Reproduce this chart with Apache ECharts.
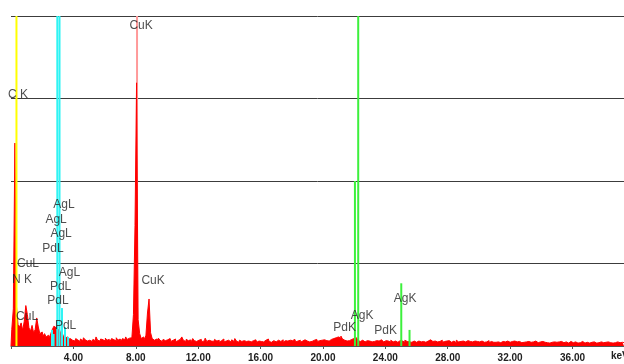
<!DOCTYPE html>
<html>
<head>
<meta charset="utf-8">
<script src="https://cdn.jsdelivr.net/npm/echarts@6/dist/echarts.min.js"></script>
<style>
  html, body {margin: 0; padding: 0; background: #fff;}
  #chart {width: 624px; height: 364px;}
</style>
</head>
<body>
<div id="chart"></div>
<script>
// spectrum counts, one value per 0.1 keV channel, starting at 0.0 keV
const channelStep = 0.1
const counts = [
  0, 200, 450, 2460, 480, 260, 230, 280, 190, 300,
  490, 380, 220, 180, 250, 160, 200, 340, 230, 150,
  170, 120, 150, 110, 130, 100, 150, 200, 240, 220,
  190, 200, 170, 150, 120, 100, 110, 80, 90, 70,
  80, 60, 90, 70, 55, 85, 65, 100, 75, 60,
  70, 90, 55, 80, 65, 110, 70, 60, 85, 75,
  60, 95, 70, 80, 55, 90, 75, 65, 100, 70,
  85, 60, 90, 75, 110, 80, 95, 100, 120, 380,
  1460, 3190, 320, 150, 90, 110, 80, 130, 400, 570,
  160, 90, 70, 85, 60, 95, 70, 55, 80, 65,
  75, 60, 90, 55, 70, 85, 50, 65, 80, 60,
  110, 70, 55, 85, 60, 75, 50, 90, 65, 55,
  70, 60, 80, 50, 65, 95, 55, 70, 60, 75,
  55, 80, 60, 70, 45, 65, 85, 50, 60, 70,
  60, 50, 75, 55, 90, 60, 45, 70, 55, 65,
  70, 55, 60, 80, 50, 65, 55, 75, 45, 60,
  55, 65, 50, 70, 60, 85, 55, 45, 65, 60,
  50, 70, 60, 55, 75, 45, 65, 60, 50, 70,
  65, 55, 80, 50, 60, 70, 45, 60, 75, 55,
  60, 50, 65, 55, 70, 60, 80, 55, 65, 70,
  60, 75, 65, 70, 60, 80, 75, 90, 100, 115,
  110, 95, 120, 85, 70, 60, 75, 65, 80, 70,
  90, 100, 80, 65, 55, 70, 60, 50, 65, 55,
  60, 50, 70, 55, 65, 45, 60, 75, 55, 50,
  65, 55, 60, 45, 70, 50, 60, 55, 45, 65,
  50, 60, 45, 70, 55, 50, 65, 45, 60, 55,
  45, 60, 70, 50, 55, 65, 45, 60, 50, 75,
  55, 45, 60, 50, 65, 55, 70, 45, 55, 60,
  50, 65, 45, 55, 60, 40, 70, 50, 55, 45,
  60, 50, 45, 65, 55, 40, 50, 60, 45, 55,
  50, 40, 60, 45, 55, 50, 65, 40, 55, 45,
  55, 45, 50, 60, 40, 55, 45, 50, 60, 40,
  45, 55, 40, 60, 50, 45, 55, 40, 50, 45,
  50, 40, 55, 45, 35, 50, 60, 45, 40, 50,
  40, 55, 45, 50, 40, 35, 55, 45, 50, 40,
  45, 50, 35, 55, 40, 45, 50, 35, 45, 55,
  40, 45, 50, 35, 45, 40, 55, 40, 35, 45,
  50, 35, 45, 40, 50, 35, 45, 40, 50, 35,
  40, 45, 35, 50, 40, 45, 35, 40, 45, 50,
  40, 35, 45, 40
]

// element marker lines: [keV, height]
const yellowLines = [[0.35, 4000]]
const cyanLines = [[2.97, 4000], [3.11, 4000], [2.63, 195], [2.73, 145], [3.27, 460], [3.46, 230], [3.66, 110]]
const greenLines = [[22.05, 2000], [22.26, 4000], [25.02, 760], [25.55, 195]]
const pinkLines = [[8.08, 4000]]

// peak labels: [keV, height, text]
const peakLabels = [
  [8.34, 3879, 'CuK'],
  [0.45, 3042, 'C K'],
  [3.40, 1715, 'AgL'],
  [2.89, 1533, 'AgL'],
  [3.21, 1357, 'AgL'],
  [2.69, 1176, 'PdL'],
  [1.09, 994, 'CuL'],
  [0.71, 800, 'N K'],
  [3.75, 894, 'AgL'],
  [3.18, 715, 'PdL'],
  [3.01, 545, 'PdL'],
  [1.03, 352, 'CuL'],
  [3.50, 242, 'PdL'],
  [9.11, 788, 'CuK'],
  [21.39, 218, 'PdK'],
  [22.51, 364, 'AgK'],
  [24.02, 182, 'PdK'],
  [25.27, 570, 'AgK']
]

const xTicks = [0, 4, 8, 12, 16, 20, 24, 28, 32, 36]

const markerSeries = (data, color, width, z) => ({
  type: 'custom',
  z,
  data,
  renderItem(params, api) {
    const p0 = api.coord([api.value(0), 0])
    const p1 = api.coord([api.value(0), api.value(1)])
    return {
      type: 'line',
      shape: {x1: p0[0], y1: p0[1], x2: p1[0], y2: p1[1]},
      style: {stroke: color, lineWidth: width}
    }
  }
})

const chart = echarts.init(document.getElementById('chart'))
chart.setOption({
  animation: false,
  backgroundColor: '#fff',
  grid: {left: 11, right: 0, top: 16, bottom: 18, containLabel: false, outerBoundsMode: 'none'},
  xAxis: {
    type: 'value',
    min: 0,
    max: 39.3,
    interval: 4,
    offset: 3,
    name: 'keV',
    nameLocation: 'end',
    nameGap: -13,
    nameTextStyle: {
      color: '#222', fontSize: 10, fontWeight: 'bold',
      fontFamily: 'Liberation Sans, Arial, sans-serif',
      verticalAlign: 'top', padding: [5, 0, 0, 0]
    },
    splitLine: {show: false},
    axisLine: {lineStyle: {color: '#555', width: 1}},
    axisTick: {length: 3, lineStyle: {color: '#555'}},
    axisLabel: {
      margin: 4,
      color: '#222',
      fontSize: 10,
      fontWeight: 'bold',
      fontFamily: 'Liberation Sans, Arial, sans-serif',
      formatter(val) {
        return xTicks.indexOf(val) > 0 ? val.toFixed(2) : ''
      }
    }
  },
  yAxis: {
    type: 'value',
    min: 0,
    max: 4000,
    interval: 1000,
    axisLine: {show: false},
    axisTick: {show: false},
    axisLabel: {show: false},
    splitLine: {lineStyle: {color: '#3c3c3c', width: 1}}
  },
  series: [
    markerSeries(pinkLines, '#ff9a9a', 2, 1),
    {
      type: 'line',
      z: 2,
      step: 'middle',
      symbol: 'none',
      data: counts.map((c, i) => [+(i * channelStep).toFixed(1), c]),
      lineStyle: {color: '#ff0000', width: 1},
      areaStyle: {color: '#ff0000', opacity: 1}
    },
    markerSeries(yellowLines, '#ffff00', 2, 3),
    markerSeries(cyanLines, '#2ff4f4', 2, 3),
    markerSeries(greenLines, '#3cf03c', 2, 3),
    {
      type: 'scatter',
      z: 4,
      symbolSize: 1,
      itemStyle: {color: 'rgba(0,0,0,0)'},
      data: peakLabels,
      label: {
        show: true,
        position: 'inside',
        color: '#222',
        fontSize: 12,
        fontFamily: 'Liberation Sans, Arial, sans-serif',
        formatter: p => p.data[2]
      }
    }
  ]
})
</script>
</body>
</html>
